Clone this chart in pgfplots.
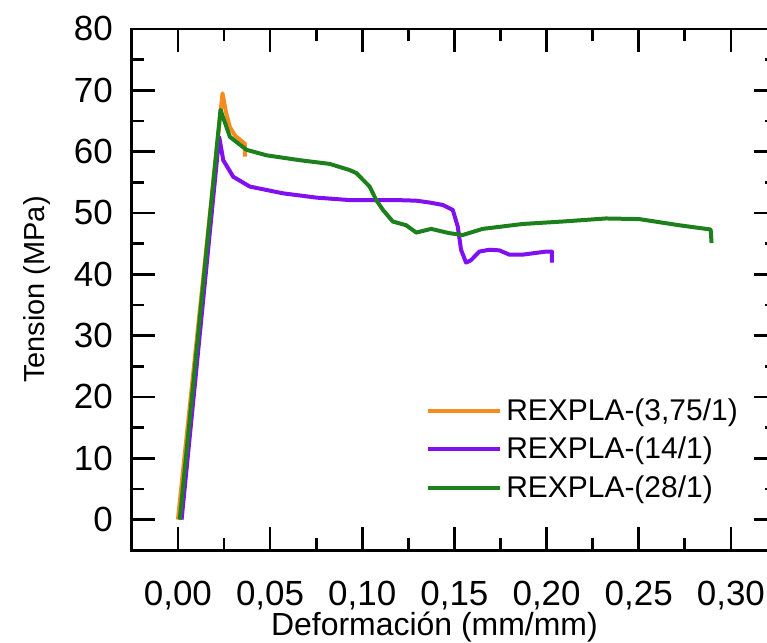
\documentclass[border=0pt]{standalone}
\usepackage{fontspec}
\setmainfont{Liberation Sans}
\usepackage{pgfplots}
\pgfplotsset{compat=1.18}
\usetikzlibrary{calc}
\definecolor{corange}{RGB}{247,140,30}
\definecolor{cpurple}{RGB}{128,16,240}
\definecolor{cgreen}{RGB}{28,128,28}

\begin{document}
\begin{tikzpicture}
\begin{axis}[
    width=323pt, height=261pt, scale only axis,
    xmin=-0.025, xmax=0.325, ymin=-5, ymax=80,
    xtick={0,0.05,0.10,0.15,0.20,0.25,0.30},
    ytick={0,10,20,30,40,50,60,70,80},
    minor x tick num=1, minor y tick num=1,
    tick align=inside, xtick pos=both, ytick pos=both,
    xticklabel pos=lower, yticklabel pos=left,
    major tick length=11.5pt, minor tick length=6pt,
    axis line style={line width=1.4pt},
    every tick/.style={black, line width=1.4pt},
    tick label style={font=\fontsize{17.5}{20}\selectfont},
    /pgf/number format/assume math mode=true,
    xticklabel style={/pgf/number format/.cd, fixed, fixed zerofill, precision=2, use comma, /tikz/.cd, yshift=-12pt},
    yticklabel style={xshift=-6pt},
    scaled x ticks=false,
    xlabel={Deformación (mm/mm)},
    ylabel={Tension (MPa)},
    xlabel style={font=\fontsize{16}{19}\selectfont, yshift=6pt, xshift=-10pt},
    ylabel style={font=\fontsize{14.5}{17}\selectfont, yshift=5pt},
    legend style={draw=none, fill=none, at={(rel axis cs:0.946,0.088)}, anchor=south east,
        font=\fontsize{15}{18}\selectfont, row sep=2.8pt, inner sep=0pt},
    legend cell align=left,
    legend image code/.code={\draw[#1] (0pt,0pt) -- (36pt,0pt);},
    every axis plot/.append style={line width=2pt, line join=round},
]
\addplot[corange] coordinates {
(0.000,0) (0.0242,69.5) (0.0260,66.5) (0.0282,64.0) (0.0310,62.6) (0.0363,61.3) (0.0363,59.2)
};
\addplot[cpurple] coordinates {
(0.002,0) (0.0224,62.4) (0.0246,58.6) (0.0300,55.9) (0.0390,54.3) (0.0570,53.2)
(0.0751,52.5) (0.0931,52.1) (0.1184,52.1) (0.1293,52.0) (0.1365,51.7) (0.1437,51.3)
(0.1491,50.5) (0.1518,47.8) (0.1536,44.0) (0.1563,41.9) (0.1590,42.3) (0.1635,43.7)
(0.1690,44.0) (0.1744,43.9) (0.1798,43.2) (0.1870,43.2) (0.1997,43.7) (0.2029,43.7) (0.2029,41.9)
};
\addplot[cgreen] coordinates {
(0.001,0) (0.0231,66.8) (0.0282,62.4) (0.0372,60.3) (0.0480,59.4) (0.0661,58.6)
(0.0823,58.0) (0.0931,57.0) (0.0968,56.5) (0.1040,54.3) (0.1076,52.1) (0.1112,50.5)
(0.1166,48.6) (0.1238,48.0) (0.1293,46.8) (0.1374,47.4) (0.1473,46.7) (0.1545,46.4)
(0.1653,47.4) (0.1762,47.8) (0.1870,48.2) (0.2086,48.6) (0.2321,49.1) (0.2502,49.0)
(0.2718,48.0) (0.2890,47.3) (0.2895,45.1)
};
\legend{{REXPLA-(3,75/1)}, {REXPLA-(14/1)}, {REXPLA-(28/1)}}
\end{axis}
% right-hand ticks
\begin{axis}[
    width=323pt, height=261pt, scale only axis,
    xmin=-0.025, xmax=0.325, ymin=-5, ymax=80,
    axis x line=none, axis y line*=right,
    ytick={0,10,20,30,40,50,60,70,80}, yticklabels={},
    minor y tick num=1, tick align=inside,
    major tick length=11.5pt, minor tick length=6pt,
    axis line style={line width=1.4pt, -},
    every tick/.style={black, line width=1.4pt},
]
\end{axis}
\pgfresetboundingbox
\path ($(current axis.south west)+(-66pt,-46pt)$) rectangle ($(current axis.north east)+(-5pt,14.5pt)$);
\end{tikzpicture}
\end{document}
